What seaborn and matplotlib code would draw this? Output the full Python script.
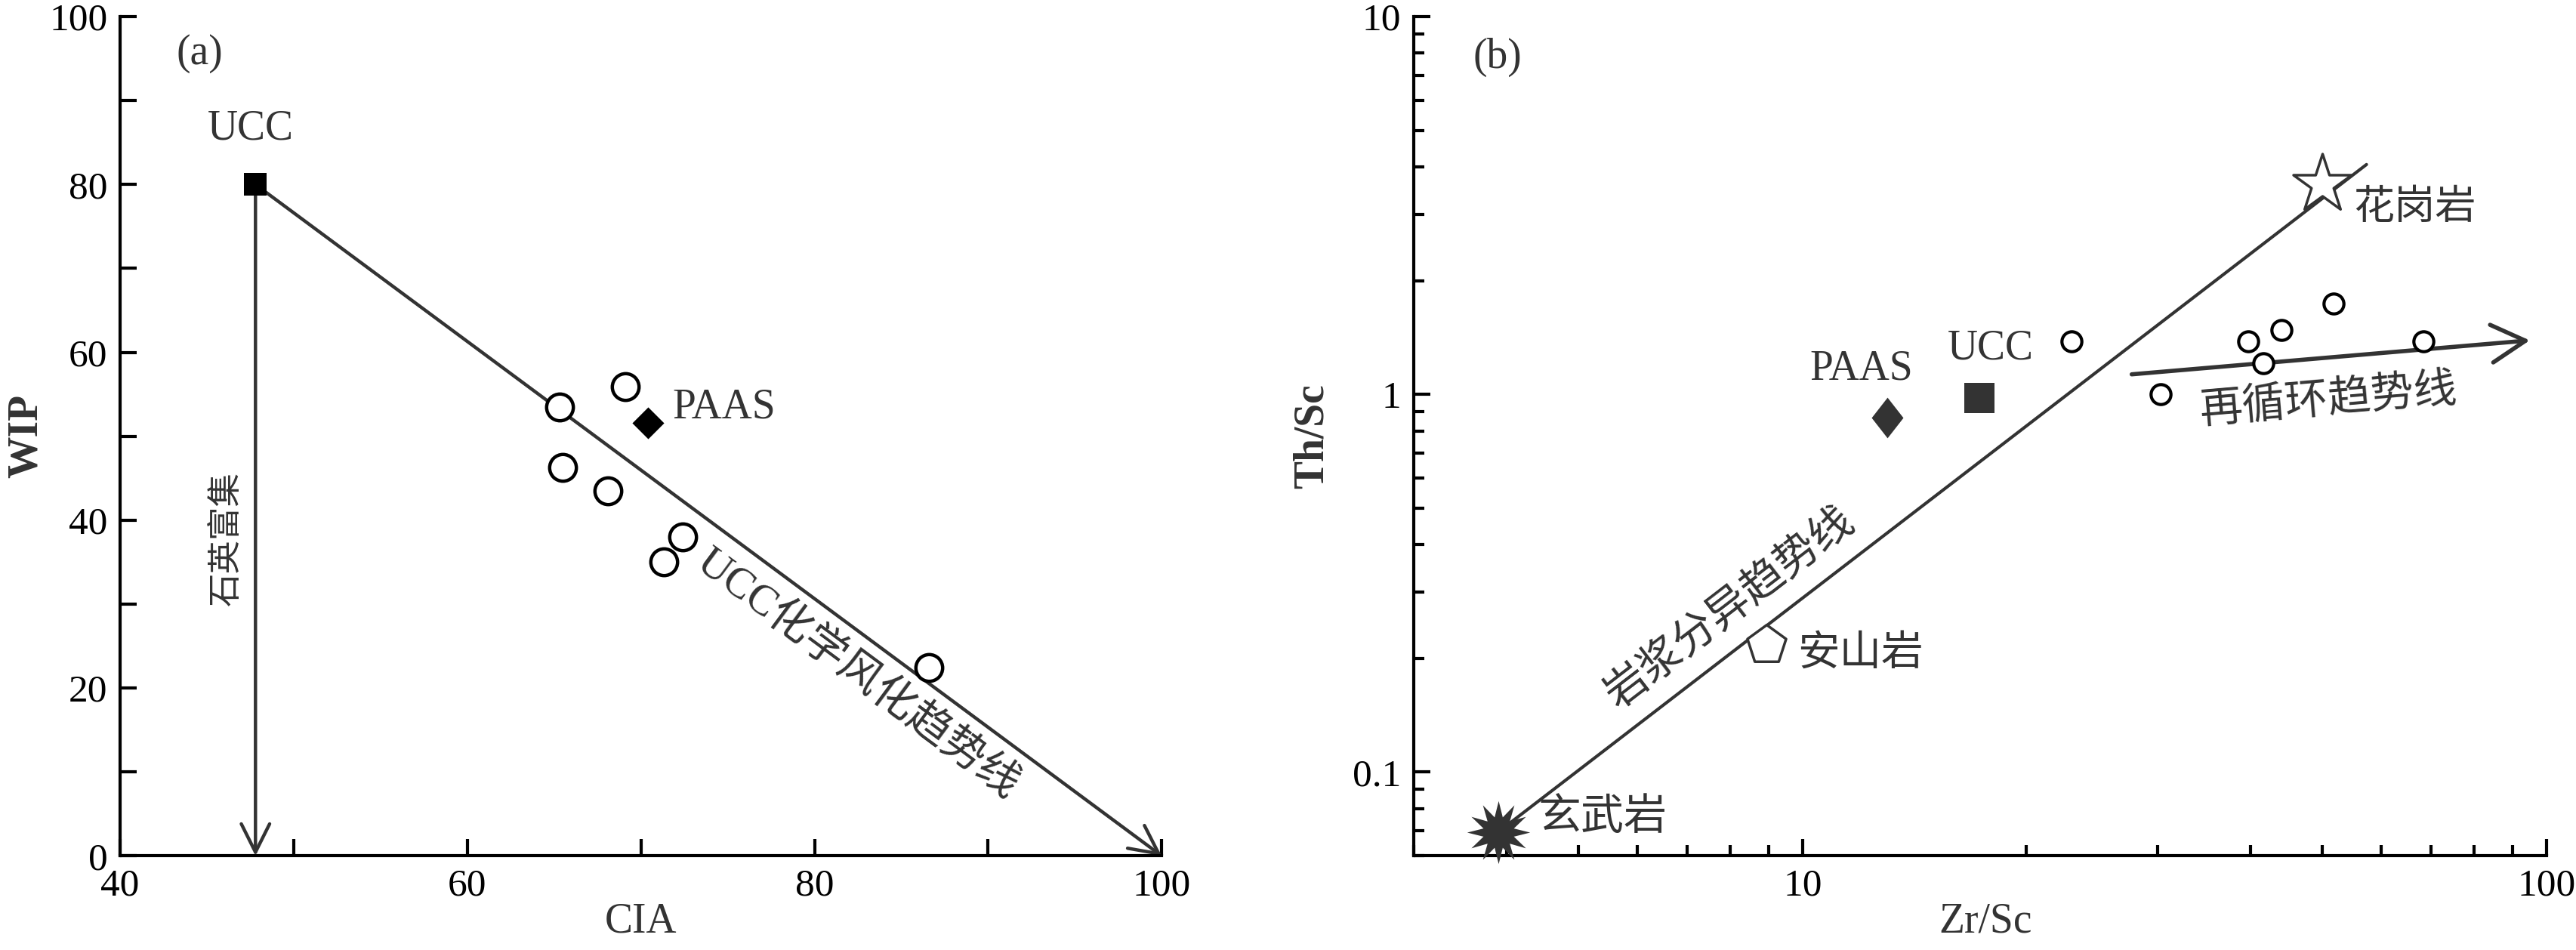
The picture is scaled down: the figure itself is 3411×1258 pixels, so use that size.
import numpy as np
import pandas as pd
import matplotlib
matplotlib.use("Agg")
import matplotlib.pyplot as plt
import seaborn as sns
from matplotlib.ticker import MultipleLocator, LogLocator, NullFormatter, FixedLocator, FixedFormatter

# ---------------- data: panel (a) ----------------
cia_samples = [65.3, 69.1, 65.5, 68.1, 72.4, 71.3, 86.6]
wip_samples = [53.5, 55.9, 46.3, 43.5, 38.0, 35.0, 22.4]
ucc_a_cia = [47.8]
ucc_a_wip = [80.0]
paas_a_cia = [70.4]
paas_a_wip = [51.6]
weathering_cia = [47.8, 100.0]
weathering_wip = [80.0, 0.0]
quartz_cia = [47.8, 47.8]
quartz_wip = [80.0, 0.0]
a_xticks = [40, 60, 80, 100]
a_yticks = [0, 20, 40, 60, 80, 100]

# ---------------- data: panel (b) ----------------
zr_sc_samples = [23.0, 30.3, 39.7, 41.6, 44.0, 51.7, 68.4]
th_sc_samples = [1.38, 1.00, 1.38, 1.21, 1.48, 1.74, 1.38]
paas_b = (13.0, 0.87)
ucc_b = (17.3, 0.98)
granite = (50.0, 3.6)
andesite = (8.95, 0.217)
basalt = (3.9, 0.0695)
magmatic_zr = [3.9, 57.3]
magmatic_th = [0.0695, 4.06]
recycle_zr = [27.7, 95.0]
recycle_th = [1.13, 1.39]
b_xticks = [10, 100]
b_xticklabels = ["10", "100"]
b_yticks = [0.1, 1, 10]
b_yticklabels = ["0.1", "1", "10"]

# ---------------- style ----------------
sns.set_theme(style="ticks")
plt.rcParams["font.family"] = ["Liberation Serif", "Noto Sans CJK SC", "DejaVu Sans"]
plt.rcParams["axes.unicode_minus"] = False

INK = "#333333"
BLACK = "#000000"
TICK_FS = 37
LAB_FS = 40
TXT_FS = 40

fig = plt.figure(figsize=(34.11, 12.58), dpi=100)
axa = fig.add_axes([0.0466, 0.0990, 0.4044, 0.8835])
axb = fig.add_axes([0.5488, 0.0990, 0.4397, 0.8835])

for ax in (axa, axb):
    for s in ("top", "right"):
        ax.spines[s].set_visible(False)
    for s in ("left", "bottom"):
        ax.spines[s].set_linewidth(3.0)
        ax.spines[s].set_color(BLACK)
    ax.tick_params(which="both", direction="in", colors=BLACK, width=3.0,
                   labelsize=TICK_FS, pad=12)
    ax.set_facecolor("white")

# ================= panel (a) =================
axa.set_xlim(40, 100)
axa.set_ylim(0, 100)
axa.xaxis.set_major_locator(FixedLocator(a_xticks))
axa.xaxis.set_minor_locator(MultipleLocator(10))
axa.yaxis.set_major_locator(FixedLocator(a_yticks))
axa.yaxis.set_minor_locator(MultipleLocator(10))
axa.tick_params(which="major", length=16)
axa.tick_params(which="minor", length=16)

arrow_a = dict(arrowstyle="->,head_length=0.9,head_width=0.45",
               color=INK, lw=3.2, mutation_scale=30, shrinkA=0, shrinkB=0)
axa.annotate("", xy=(weathering_cia[1], weathering_wip[1]),
             xytext=(weathering_cia[0], weathering_wip[0]),
             arrowprops=arrow_a, annotation_clip=False, zorder=2)
axa.annotate("", xy=(quartz_cia[1], quartz_wip[1]),
             xytext=(quartz_cia[0], quartz_wip[0]),
             arrowprops=arrow_a, annotation_clip=False, zorder=2)

df_a = pd.DataFrame({"CIA": cia_samples, "WIP": wip_samples})
sns.scatterplot(data=df_a, x="CIA", y="WIP", ax=axa, marker="o", s=650,
                facecolor="white", edgecolor=BLACK, linewidth=3.2, zorder=3)
sns.scatterplot(x=ucc_a_cia, y=ucc_a_wip, ax=axa, marker="s", s=440,
                color=BLACK, edgecolor=BLACK, linewidth=0, zorder=4)
sns.scatterplot(x=paas_a_cia, y=paas_a_wip, ax=axa, marker="D", s=460,
                color=BLACK, edgecolor=BLACK, linewidth=0, zorder=4)

axa.text(47.5, 84.3, "UCC", fontsize=TXT_FS, color=INK, ha="center", va="bottom")
axa.text(71.8, 53.4, "PAAS", fontsize=TXT_FS, color=INK, ha="left", va="center")
axa.text(44.6, 95.6, "(a)", fontsize=TXT_FS, color=INK, ha="center", va="center")
axa.text(46.1, 37.8, "石英富集", fontsize=32, color=INK, rotation=90,
         ha="center", va="center", family=["Noto Sans CJK SC"])

fig.canvas.draw()
p0 = axa.transData.transform((weathering_cia[0], weathering_wip[0]))
p1 = axa.transData.transform((weathering_cia[1], weathering_wip[1]))
ang_a = np.degrees(np.arctan2(p1[1] - p0[1], p1[0] - p0[0]))
axa.text(82.5, 21.6, "UCC化学风化趋势线", fontsize=41, color=INK,
         rotation=ang_a, rotation_mode="anchor", ha="center", va="center")

axa.set_xlabel("CIA", fontsize=LAB_FS, color=INK)
axa.set_ylabel("WIP", fontsize=LAB_FS, color=INK, fontweight="bold")
axa.xaxis.set_label_coords(0.5, -0.055)
axa.yaxis.set_label_coords(-0.071, 0.5)

# ================= panel (b) =================
axb.set_xscale("log")
axb.set_yscale("log")
axb.set_xlim(3, 100)
axb.set_ylim(0.06, 10)
axb.xaxis.set_major_locator(FixedLocator(b_xticks))
axb.xaxis.set_major_formatter(FixedFormatter(b_xticklabels))
axb.xaxis.set_minor_locator(LogLocator(base=10, subs=np.arange(2, 10)))
axb.xaxis.set_minor_formatter(NullFormatter())
axb.yaxis.set_major_locator(FixedLocator(b_yticks))
axb.yaxis.set_major_formatter(FixedFormatter(b_yticklabels))
axb.yaxis.set_minor_locator(LogLocator(base=10, subs=np.arange(2, 10)))
axb.yaxis.set_minor_formatter(NullFormatter())
axb.tick_params(which="major", length=16)
axb.tick_params(which="minor", length=10)

sns.lineplot(x=magmatic_zr, y=magmatic_th, ax=axb, color=INK, lw=3.0,
             sort=False, zorder=2)
axb.annotate("", xy=(recycle_zr[1], recycle_th[1]),
             xytext=(recycle_zr[0], recycle_th[0]),
             arrowprops=dict(arrowstyle="->,head_length=0.9,head_width=0.5",
                             color=INK, lw=4.0, mutation_scale=36,
                             shrinkA=0, shrinkB=0), zorder=2)

df_b = pd.DataFrame({"Zr/Sc": zr_sc_samples, "Th/Sc": th_sc_samples})
sns.scatterplot(data=df_b, x="Zr/Sc", y="Th/Sc", ax=axb, marker="o", s=360,
                facecolor="white", edgecolor=BLACK, linewidth=3.0, zorder=3)

diamond = [(0, 1), (0.78, 0), (0, -1), (-0.78, 0), (0, 1)]
sns.scatterplot(x=[paas_b[0]], y=[paas_b[1]], ax=axb, marker=diamond, s=1500,
                color=INK, edgecolor=INK, linewidth=0, zorder=4)
sns.scatterplot(x=[ucc_b[0]], y=[ucc_b[1]], ax=axb, marker="s", s=800,
                color=INK, edgecolor=INK, linewidth=0, zorder=4)
sns.scatterplot(x=[granite[0]], y=[granite[1]], ax=axb, marker="*", s=3400,
                facecolor="white", edgecolor=INK, linewidth=2.5, zorder=4)
sns.scatterplot(x=[andesite[0]], y=[andesite[1]], ax=axb, marker="p", s=1500,
                facecolor="white", edgecolor=INK, linewidth=2.5, zorder=4)
sns.scatterplot(x=[basalt[0]], y=[basalt[1]], ax=axb, marker=(12, 1, 0), s=3600,
                color=INK, edgecolor=INK, linewidth=0, zorder=4, clip_on=False)

axb.text(3.89, 7.8, "(b)", fontsize=TXT_FS, color=INK, ha="center", va="center")
axb.text(55.0, 3.1, "花岗岩", fontsize=39, color=INK, ha="left", va="center")
axb.text(12.0, 1.17, "PAAS", fontsize=TXT_FS, color=INK, ha="center", va="center")
axb.text(17.9, 1.32, "UCC", fontsize=TXT_FS, color=INK, ha="center", va="center")
axb.text(9.85, 0.205, "安山岩", fontsize=40, color=INK, ha="left", va="center")
axb.text(4.41, 0.0755, "玄武岩", fontsize=41, color=INK, ha="left", va="center")

fig.canvas.draw()
q0 = axb.transData.transform((magmatic_zr[0], magmatic_th[0]))
q1 = axb.transData.transform((magmatic_zr[1], magmatic_th[1]))
ang_m = np.degrees(np.arctan2(q1[1] - q0[1], q1[0] - q0[0]))
axb.text(8.0, 0.27, "岩浆分异趋势线", fontsize=41, color=INK,
         rotation=ang_m, rotation_mode="anchor", ha="center", va="center")
r0 = axb.transData.transform((recycle_zr[0], recycle_th[0]))
r1 = axb.transData.transform((recycle_zr[1], recycle_th[1]))
ang_r = np.degrees(np.arctan2(r1[1] - r0[1], r1[0] - r0[0]))
axb.text(51.0, 0.96, "再循环趋势线", fontsize=41, color=INK,
         rotation=ang_r, rotation_mode="anchor", ha="center", va="center")

axb.set_xlabel("Zr/Sc", fontsize=LAB_FS, color=INK)
axb.set_ylabel("Th/Sc", fontsize=LAB_FS, color=INK, fontweight="bold")
axb.xaxis.set_label_coords(0.505, -0.055)
axb.yaxis.set_label_coords(-0.072, 0.5)

fig.savefig("out.png", dpi=100, facecolor="white")
